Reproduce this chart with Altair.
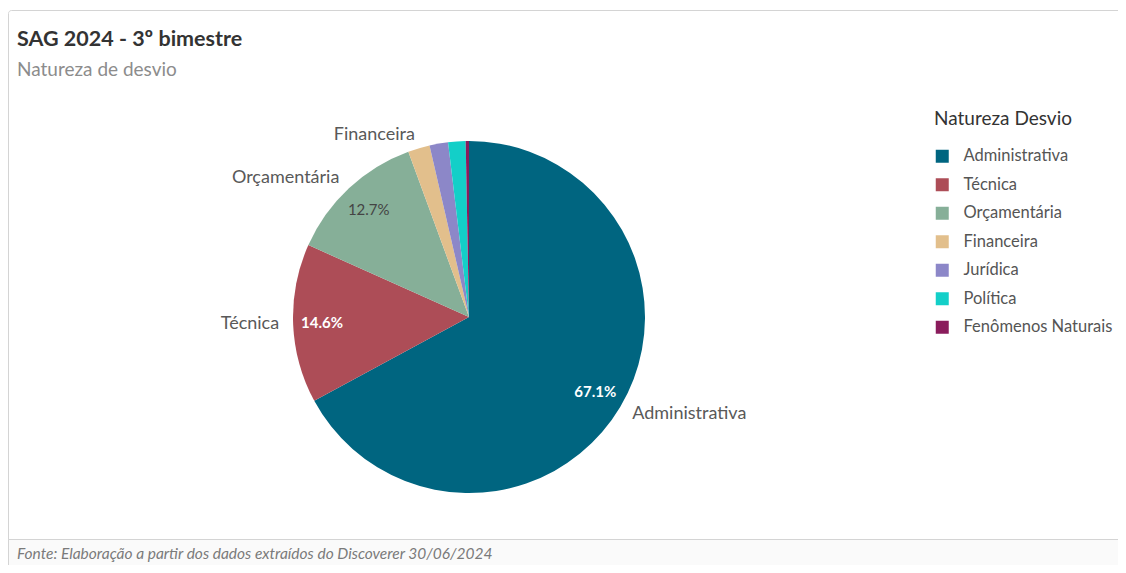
import altair as alt
import pandas as pd

categories = ["Administrativa", "Técnica", "Orçamentária", "Financeira",
              "Jurídica", "Política", "Fenômenos Naturais"]
values = [67.1, 14.6, 12.7, 2.0, 1.7, 1.6, 0.3]
palette = ["#006580", "#ad4d57", "#86af98", "#e2bf8c", "#8c87c8", "#13cfc8", "#8a1c5c"]

title_text = "SAG 2024 - 3º bimestre"
subtitle_text = "Natureza de desvio"
footer_text = "Fonte: Elaboração a partir dos dados extraídos do Discoverer 30/06/2024"
legend_title = "Natureza Desvio"

FONT = "Lato"
CX, CY, R = 461, 309, 176

df = pd.DataFrame({"cat": categories, "value": values, "idx": list(range(len(categories)))})

base = alt.Chart(df).encode(
    theta=alt.Theta("value:Q", stack=True),
    order=alt.Order("idx:Q", sort="ascending"),
    x=alt.value(CX),
    y=alt.value(CY),
)

arcs = base.mark_arc(outerRadius=R).encode(
    color=alt.Color(
        "cat:N",
        scale=alt.Scale(domain=categories, range=palette),
        sort=categories,
        legend=alt.Legend(
            title=legend_title, orient="none", legendX=926, legendY=102,
            titleFontSize=19, titleFontWeight="normal", titleColor="#333333",
            titleFont=FONT, titlePadding=19,
            labelFont=FONT, labelFontSize=16.5, labelColor="#555555",
            symbolType="square", symbolSize=169, symbolStrokeWidth=0,
            rowPadding=11.5, labelOffset=13,
        ),
    )
)

pct_white = base.transform_calculate(
    t="(datum.cat == 'Administrativa' || datum.cat == 'Técnica') ? format(datum.value, '.1f') + '%' : ''"
).mark_text(radius=147, font=FONT, fontSize=15, fontWeight="bold", color="white").encode(text="t:N")

pct_dark = base.transform_calculate(
    t="datum.cat == 'Orçamentária' ? format(datum.value, '.1f') + '%' : ''"
).mark_text(radius=147, font=FONT, fontSize=15, color="#444444").encode(text="t:N")

out_right = base.transform_calculate(
    t="datum.cat == 'Administrativa' ? datum.cat : ''"
).mark_text(radius=190, font=FONT, fontSize=18, color="#595959", align="left",
            baseline="middle").encode(text="t:N")

out_left = base.transform_calculate(
    t="(datum.value >= 2 && datum.cat != 'Administrativa') ? datum.cat : ''"
).mark_text(radius=190, font=FONT, fontSize=18, color="#595959", align="right",
            baseline="middle").encode(text="t:N")

one = pd.DataFrame({"k": [0]})

frame = alt.Chart(one).mark_rect(fill="white", stroke="#d4d4d4", strokeWidth=1,
                                 cornerRadius=3).encode(
    x=alt.value(0.5), x2=alt.value(1140), y=alt.value(2.5), y2=alt.value(600))

footer_bg = alt.Chart(one).mark_rect(fill="#fafafa", stroke="#d4d4d4", strokeWidth=1).encode(
    x=alt.value(0.5), x2=alt.value(1140), y=alt.value(531.5), y2=alt.value(600))

title = alt.Chart(pd.DataFrame({"t": [title_text]})).mark_text(
    font=FONT, fontSize=21.5, fontWeight="bold", color="#333333", align="left",
    baseline="middle").encode(x=alt.value(9), y=alt.value(32), text="t:N")

subtitle = alt.Chart(pd.DataFrame({"t": [subtitle_text]})).mark_text(
    font=FONT, fontSize=19, color="#8c8c8c", align="left",
    baseline="middle").encode(x=alt.value(9), y=alt.value(62), text="t:N")

footer = alt.Chart(pd.DataFrame({"t": [footer_text]})).mark_text(
    font=FONT, fontSize=15.5, fontStyle="italic", color="#7a7a7a", align="left",
    baseline="middle").encode(x=alt.value(9), y=alt.value(546), text="t:N")

chart = alt.layer(
    frame, footer_bg, arcs, pct_white, pct_dark, out_right, out_left, title, subtitle, footer
).properties(
    width=1110, height=557,
    autosize=alt.AutoSizeParams(type="none"),
    padding=0,
).configure_view(stroke=None)

chart.save("out.html", embed_options={"renderer": "svg", "actions": False})
